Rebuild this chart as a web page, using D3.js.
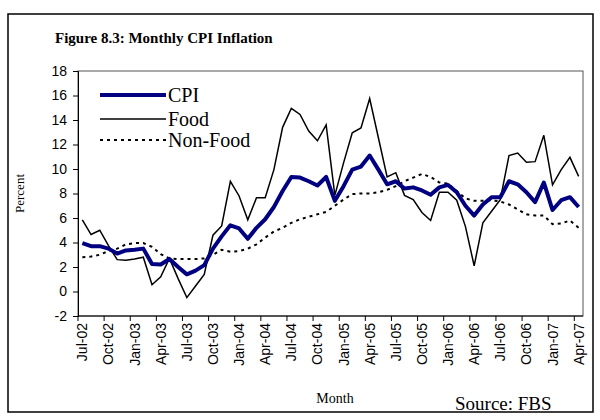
<!DOCTYPE html>
<html>
<head>
<meta charset="utf-8">
<script src="https://cdn.jsdelivr.net/npm/d3@7"></script>
<style>
  body { margin: 0; background: #fff; }
  text { fill: #000; }
</style>
</head>
<body>
<svg id="chart" width="600" height="420"></svg>
<script>
// monthly categories, Jul-02 .. Apr-07
var months = ["Jul-02","Aug-02","Sep-02","Oct-02","Nov-02","Dec-02",
  "Jan-03","Feb-03","Mar-03","Apr-03","May-03","Jun-03","Jul-03","Aug-03","Sep-03","Oct-03","Nov-03","Dec-03",
  "Jan-04","Feb-04","Mar-04","Apr-04","May-04","Jun-04","Jul-04","Aug-04","Sep-04","Oct-04","Nov-04","Dec-04",
  "Jan-05","Feb-05","Mar-05","Apr-05","May-05","Jun-05","Jul-05","Aug-05","Sep-05","Oct-05","Nov-05","Dec-05",
  "Jan-06","Feb-06","Mar-06","Apr-06","May-06","Jun-06","Jul-06","Aug-06","Sep-06","Oct-06","Nov-06","Dec-06",
  "Jan-07","Feb-07","Mar-07","Apr-07"];

var cpi = [3.95,3.7,3.7,3.5,3.1,3.35,3.4,3.5,2.25,2.2,2.65,2.0,1.4,1.7,2.15,3.5,4.5,5.4,5.15,4.3,
  5.2,5.9,6.9,8.2,9.35,9.3,9.0,8.65,9.35,7.4,8.6,9.95,10.2,11.1,9.95,8.75,9.0,8.4,8.5,8.25,
  7.9,8.5,8.7,8.1,7.0,6.2,7.1,7.7,7.7,9.0,8.75,8.1,7.3,8.9,6.65,7.45,7.7,6.9];

var food = [5.85,4.65,5.0,3.75,2.6,2.55,2.65,2.8,0.55,1.2,2.7,1.05,-0.5,0.45,1.4,4.6,5.35,9.0,7.8,5.85,
  7.65,7.65,9.95,13.4,14.95,14.45,13.1,12.3,13.6,7.85,10.5,12.95,13.35,15.75,12.55,9.35,9.7,7.85,7.5,6.45,
  5.8,8.1,8.1,7.45,5.3,2.1,5.6,6.55,7.5,11.1,11.3,10.55,10.6,12.75,8.7,9.95,10.95,9.4];

var nonFood = [2.8,2.85,3.0,3.3,3.5,3.85,3.95,3.95,3.65,3.05,2.7,2.65,2.65,2.65,2.7,3.0,3.4,3.25,3.3,3.5,
  3.85,4.4,4.9,5.2,5.6,5.9,6.1,6.3,6.5,7.0,7.5,7.95,8.0,8.0,8.1,8.3,8.6,9.0,9.3,9.6,
  9.35,8.9,8.8,8.2,7.6,7.4,7.4,7.45,7.35,7.1,6.7,6.3,6.2,6.2,5.5,5.55,5.8,5.2];

var yTicks = [-2,0,2,4,6,8,10,12,14,16,18];
var labelMonths = months.filter(function (m, i) { return i % 3 == 0; });

(function draw() {
  var svg = d3.select("#chart");
  var pl = 78, pr = 583, pt = 71, pb = 316;
  var serif = "'Liberation Serif', 'Times New Roman', serif";
  var sans = "'Liberation Sans', Arial, sans-serif";

  // outer frame
  svg.append("rect").attr("x", 8).attr("y", 14).attr("width", 585).attr("height", 398)
    .attr("fill", "none").attr("stroke", "#000").attr("stroke-width", 1.5);

  var x = d3.scaleBand().domain(months).range([pl, pr]);
  var y = d3.scaleLinear().domain([-2, 18]).range([pb, pt]);

  // plot area border
  svg.append("rect").attr("x", pl).attr("y", pt).attr("width", pr - pl).attr("height", pb - pt)
    .attr("fill", "none").attr("stroke", "#555").attr("stroke-width", 1);

  // y axis (plain hyphen for negatives, like the original)
  var yAxis = svg.append("g").attr("transform", "translate(" + pl + ",0)")
    .call(d3.axisLeft(y).tickValues(yTicks).tickSize(5).tickPadding(6).tickFormat(function (d) { return String(d); }));
  yAxis.select(".domain").attr("stroke", "#000");
  yAxis.selectAll("text").style("font-family", sans).style("font-size", "14px");

  // x axis: ticks on category boundaries, labels at category centres
  var xg = svg.append("g");
  xg.append("line").attr("x1", pl).attr("x2", pr).attr("y1", pb).attr("y2", pb).attr("stroke", "#000");
  xg.selectAll("line.tk").data(labelMonths).enter().append("line").attr("class", "tk")
    .attr("x1", function (d) { return x(d); }).attr("x2", function (d) { return x(d); })
    .attr("y1", pb).attr("y2", pb + 5).attr("stroke", "#000");
  xg.selectAll("text").data(labelMonths).enter().append("text")
    .attr("transform", function (d) { return "translate(" + (x(d) + x.bandwidth() / 2 + 5) + "," + (pb + 7) + ") rotate(-90)"; })
    .attr("text-anchor", "end")
    .style("font-family", sans).style("font-size", "14px")
    .text(function (d) { return d; });

  // lines
  var line = d3.line()
    .x(function (d, i) { return x(months[i]) + x.bandwidth() / 2; })
    .y(function (d) { return y(d); });

  svg.append("path").datum(nonFood).attr("d", line).attr("fill", "none")
    .attr("stroke", "#000").attr("stroke-width", 2).attr("stroke-dasharray", "3,4");
  svg.append("path").datum(food).attr("d", line).attr("fill", "none")
    .attr("stroke", "#000").attr("stroke-width", 1.5);
  svg.append("path").datum(cpi).attr("d", line).attr("fill", "none")
    .attr("stroke", "#000080").attr("stroke-width", 4).attr("stroke-linejoin", "round");

  // legend
  var legend = [
    { name: "CPI", color: "#000080", width: 4, dash: null, y: 95 },
    { name: "Food", color: "#000", width: 1.5, dash: null, y: 119 },
    { name: "Non-Food", color: "#000", width: 2, dash: "3,4", y: 140 }
  ];
  legend.forEach(function (l) {
    svg.append("line").attr("x1", 100).attr("x2", 166).attr("y1", l.y).attr("y2", l.y)
      .attr("stroke", l.color).attr("stroke-width", l.width).attr("stroke-dasharray", l.dash);
    svg.append("text").attr("x", 168).attr("y", l.y + 7)
      .style("font-family", serif).style("font-size", "20px").text(l.name);
  });

  // titles
  svg.append("text").attr("x", 55).attr("y", 43)
    .style("font-family", serif).style("font-size", "15px").style("font-weight", "bold")
    .text("Figure 8.3: Monthly CPI Inflation");
  svg.append("text").attr("transform", "translate(24," + ((pt + pb) / 2) + ") rotate(-90)")
    .attr("text-anchor", "middle").style("font-family", serif).style("font-size", "13px").text("Percent");
  svg.append("text").attr("x", 335).attr("y", 403).attr("text-anchor", "middle")
    .style("font-family", serif).style("font-size", "14px").text("Month");
  svg.append("text").attr("x", 455).attr("y", 410)
    .style("font-family", serif).style("font-size", "19px").text("Source: FBS");
})();
</script>
</body>
</html>
